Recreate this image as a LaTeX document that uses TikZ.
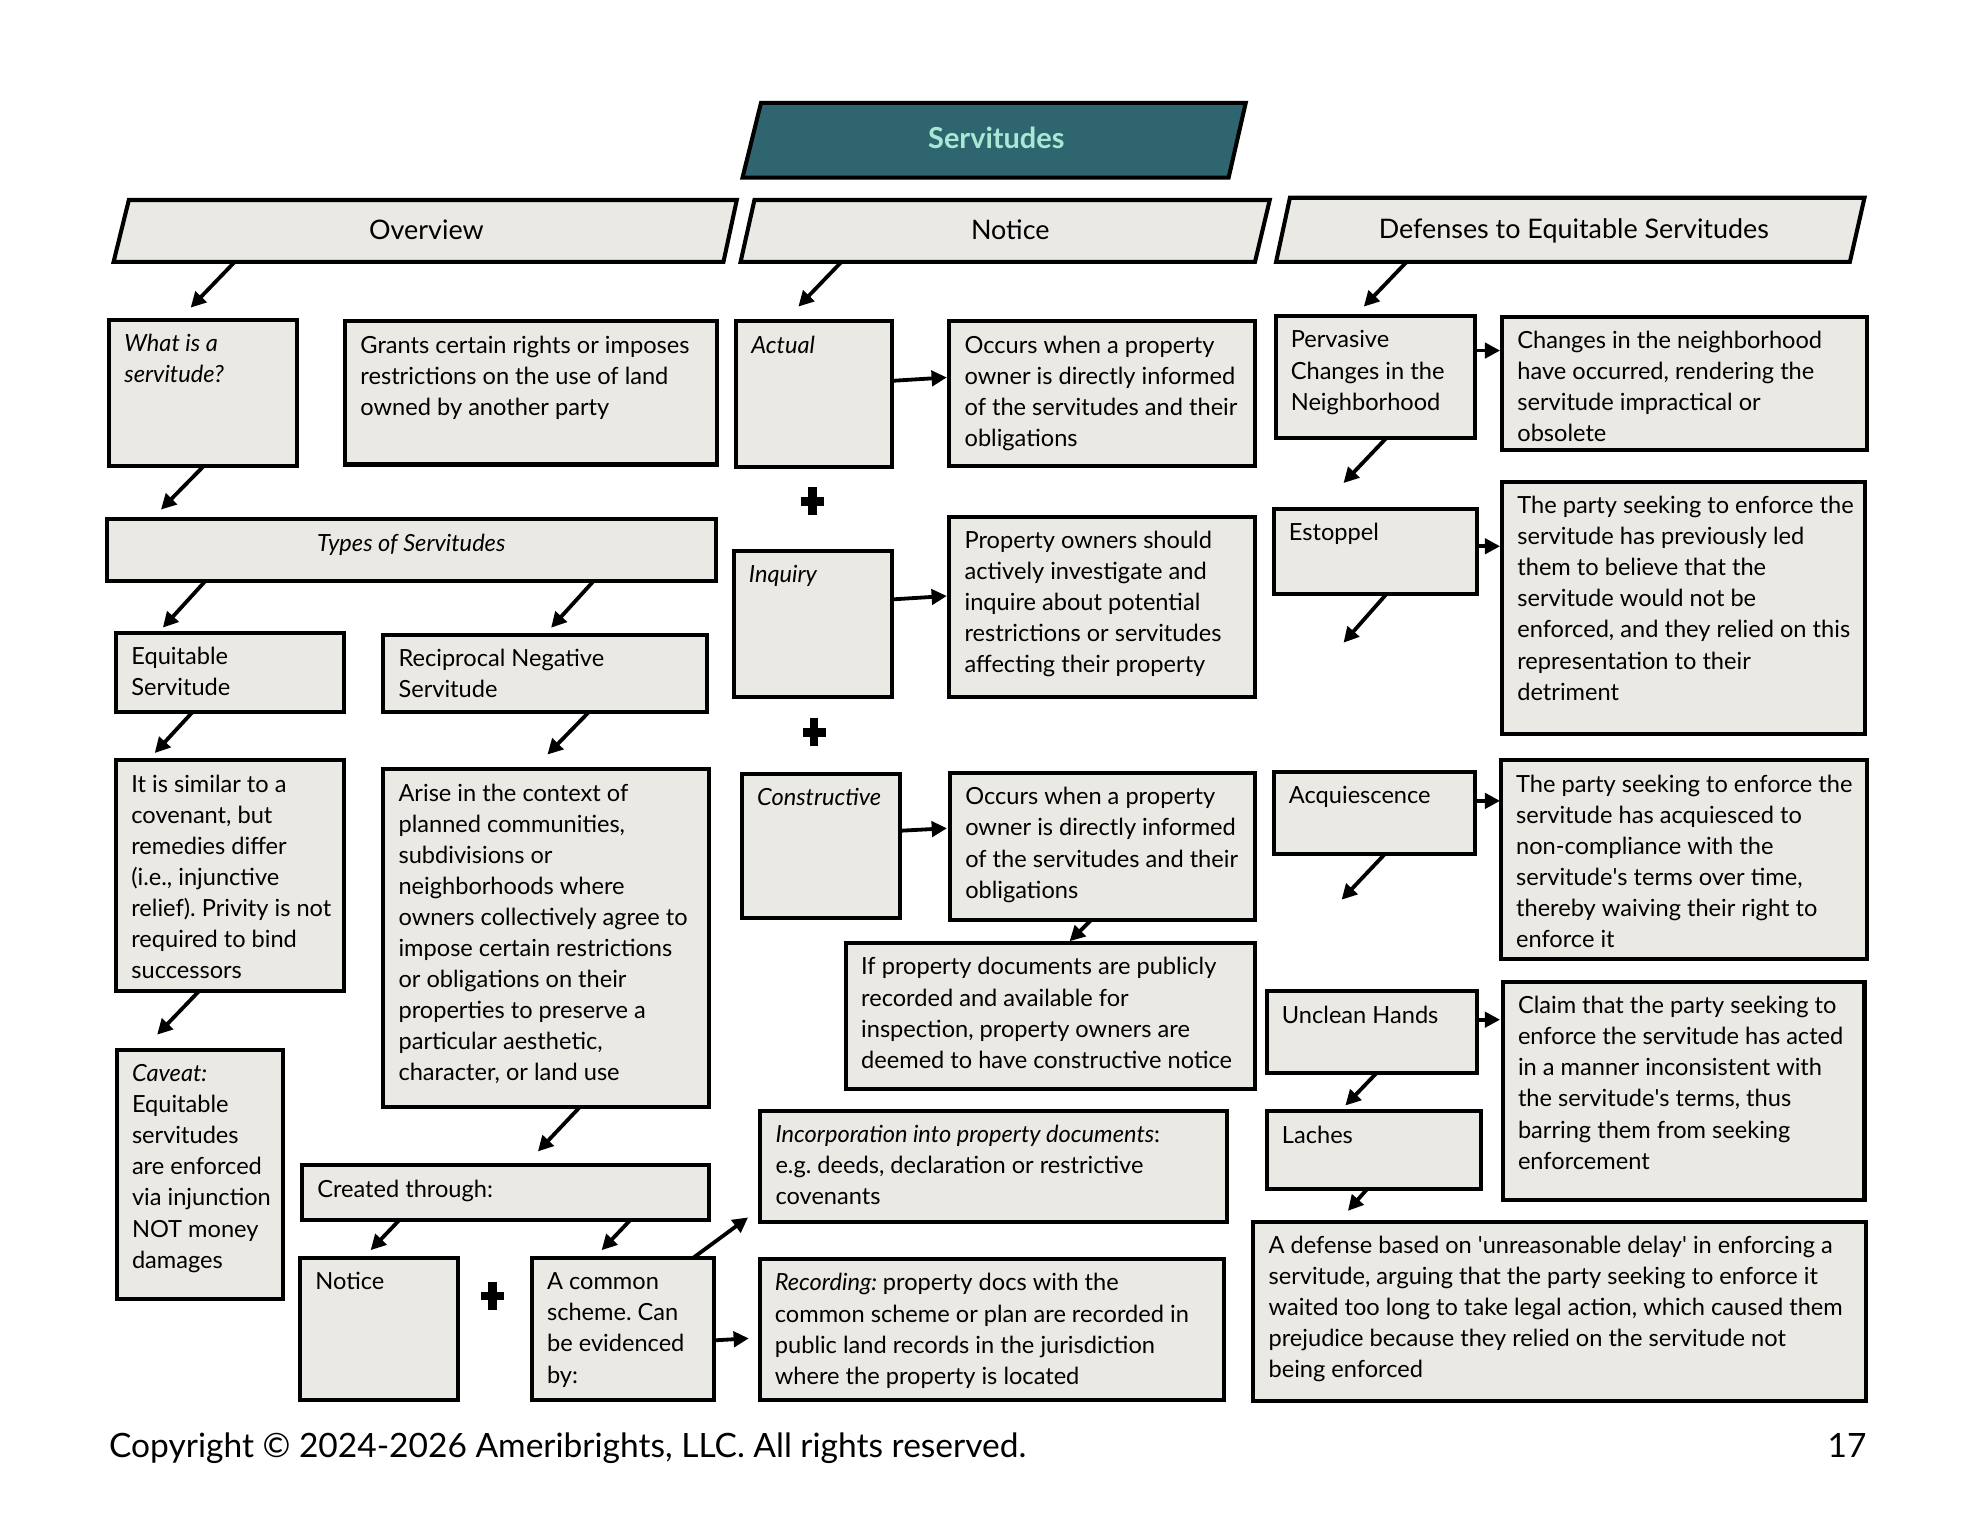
\documentclass[tikz,border=0pt]{standalone}
\usepackage{fontspec}
\setmainfont{Lato}
\usetikzlibrary{arrows.meta,calc,positioning}

\definecolor{cellfill}{RGB}{235,233,228}
\definecolor{titlefill}{RGB}{46,101,111}
\definecolor{titletext}{RGB}{170,232,214}
\newcommand\sq{\textquotesingle}
% text block at the top of a box: [align]{width}{height}{rows}
\newcommand\tbox[4][l]{\parbox[t][\dimexpr#3pt/2-8pt\relax][t]{\dimexpr#2pt/2-12pt\relax}{\if#1c\centering\fi\begin{tabular}[t]{@{}#1@{}}#4\end{tabular}}}
\frenchspacing

\begin{document}
\begin{tikzpicture}[x=0.5pt,y=-0.5pt,
	cell/.style={draw=black,line width=1.6pt,fill=cellfill,inner xsep=6pt,inner ysep=4pt,outer sep=0pt,anchor=north west,font=\fontsize{9.3}{12.25}\selectfont},
	hdr/.style={draw=black,line width=1.6pt,fill=cellfill},
	hdrtext/.style={anchor=base,font=\fontsize{10.6}{12}\selectfont},
	arr/.style={line width=1.5pt,-{Triangle[length=6pt,width=6pt]}},
	plus/.style={line width=3.3pt}]

	\fill[white] (0,0) rectangle (1560,1191.3);

	% title and the three headers
	\draw[hdr,fill=titlefill] (585,140) -- (968,140) -- (981.5,81) -- (599.6,81) -- cycle;
	\node[font=\bfseries\fontsize{11.4}{13}\selectfont,text=titletext] (title) at (785,109) {Servitudes};

	\draw[hdr] (89.5,206.3) coordinate (ovw-bl) -- (570,206.3) -- (580.5,157.6) -- (101.5,157.6) -- cycle;
	\node[hdrtext] (ovw) at (336,189) {Overview};
	\draw[hdr] (583.5,206.3) coordinate (notc-bl) -- (988.8,206.3) -- (1000.4,157.6) -- (594.4,157.6) -- cycle;
	\node[hdrtext] (notc) at (796,189) {Notice};
	\draw[hdr] (1005.4,206.3) coordinate (def-bl) -- (1457.5,206.3) -- (1469,155.8) -- (1016.3,155.8) -- cycle;
	\node[hdrtext] (def) at (1240,188) {Defenses to Equitable Servitudes};

	% overview column
	\node[cell] (whatis)  at (86,252)    {\tbox{148}{115}{\textit{What is a}\\\textit{servitude?}}};
	\node[cell] (grants)  at (272,253)   {\tbox{293}{113}{Grants certain rights or imposes\\restrictions on the use of land\\owned by another party}};
	\node[cell] (types)   at (84,409)    {\tbox[c]{480}{49}{\textit{Types of Servitudes}}};
	\node[cell] (equit)   at (91.5,498.5) {\tbox{179.5}{62.5}{Equitable\\Servitude}};
	\node[cell] (recip)   at (302,500)   {\tbox{255}{61}{Reciprocal Negative\\Servitude}};
	\node[cell] (itis)    at (91.5,599)  {\tbox{179.5}{182}{It is similar to a\\covenant, but\\remedies differ\\(i.e., injunctive\\relief). Privity is not\\required to bind\\successors}};
	\node[cell] (arise)   at (302,606)   {\tbox{256.5}{266.5}{Arise in the context of\\planned communities,\\subdivisions or\\neighborhoods where\\owners collectively agree to\\impose certain restrictions\\or obligations on their\\properties to preserve a\\particular aesthetic,\\character, or land use}};
	\node[cell] (caveat)  at (92,827)    {\tbox{131}{196.5}{\textit{Caveat:}\\Equitable\\servitudes\\are enforced\\via injunction\\NOT money\\damages}};
	\node[cell] (created) at (238,918)   {\tbox{320.5}{43.5}{Created through:}};
	\node[cell] (notice)  at (236.5,991) {\tbox{124.5}{112}{Notice}};
	\node[cell] (common)  at (419,991)   {\tbox{143.5}{112}{A common\\scheme. Can\\be evidenced\\by:}};

	% notice column
	\node[cell] (actual)  at (580,253)   {\tbox{123}{115}{\textit{Actual}}};
	\node[cell] (occ1)    at (748,253)   {\tbox{241}{114}{Occurs when a property\\owner is directly informed\\of the servitudes and their\\obligations}};
	\node[cell] (inquiry) at (578,434)   {\tbox{125}{115}{\textit{Inquiry}}};
	\node[cell] (owners)  at (748,407)   {\tbox{241}{142}{Property owners should\\actively investigate and\\inquire about potential\\restrictions or servitudes\\affecting their property}};
	\node[cell] (constr)  at (584.5,609.5) {\tbox{124.5}{114}{\textit{Constructive}}};
	\node[cell] (occ2)    at (748.5,609) {\tbox{240.5}{116}{Occurs when a property\\owner is directly informed\\of the servitudes and their\\obligations}};
	\node[cell] (ifprop)  at (666.5,743) {\tbox{322.5}{115}{If property documents are publicly\\recorded and available for\\inspection, property owners are\\deemed to have constructive notice}};
	\node[cell] (incorp)  at (599,875)   {\tbox{368}{87.5}{\textit{Incorporation into property documents}:\\e.g. deeds, declaration or restrictive\\covenants}};
	\node[cell] (record)  at (598.5,992) {\tbox{365.5}{111}{\textit{Recording:}\hspace{0.24em}property docs with the\\common scheme or plan are recorded in\\public land records in the jurisdiction\\where the property is located}};

	% defenses column
	\node[cell] (pervas)  at (1005,249)   {\tbox{157}{96}{Pervasive\\Changes in the\\Neighborhood}};
	\node[cell] (changes) at (1183.5,249.5) {\tbox{287.5}{105}{Changes in the neighborhood\\have occurred, rendering the\\servitude impractical or\\obsolete}};
	\node[cell] (estop)   at (1003.5,401) {\tbox{160}{67}{Estoppel}};
	\node[cell] (led)     at (1183.5,379.5) {\tbox{286}{199}{The party seeking to enforce the\\servitude has previously led\\them to believe that the\\servitude would not be\\enforced, and they relied on this\\representation to their\\detriment}};
	\node[cell] (acq)     at (1003.5,608) {\tbox{158.5}{65}{Acquiescence}};
	\node[cell] (waive)   at (1182.5,599) {\tbox{288.5}{156.5}{The party seeking to enforce the\\servitude has acquiesced to\\non-compliance with the\\servitude\sq s terms over time,\\thereby waiving their right to\\enforce it}};
	\node[cell] (unclean) at (998,781)   {\tbox{165.5}{64.5}{Unclean Hands}};
	\node[cell] (claim)   at (1184,773.5) {\tbox{285}{172}{Claim that the party seeking to\\enforce the servitude has acted\\in a manner inconsistent with\\the servitude\sq s terms, thus\\barring them from seeking\\enforcement}};
	\node[cell] (laches)  at (998,875.5) {\tbox{168.5}{61.5}{Laches}};
	\node[cell] (delay)   at (987.5,962.5) {\tbox{482.5}{141.5}{A defense based on \sq unreasonable delay\sq{} in enforcing a\\servitude, arguing that the party seeking to enforce it\\waited too long to take legal action, which caused them\\prejudice because they relied on the servitude not\\being enforced}};

	\coordinate (estop-end) at (1058.5,506.4);
	\coordinate (acq-end)   at (1057,708.9);

	% plus signs
	\draw[plus] (640,395) ++(0,-11) -- ++(0,22) (640,395) ++(-9,0) -- ++(18,0);
	\draw[plus] (641.5,577) ++(0,-11) -- ++(0,22) (641.5,577) ++(-9,0) -- ++(18,0);
	\draw[plus] (388,1021) ++(0,-11) -- ++(0,22) (388,1021) ++(-9,0) -- ++(18,0);

	% connectors
	\draw[arr] ($(ovw-bl)+(95.5,0)$) -- ($(whatis.north west)+(64.2,-9.6)$);
	\draw[arr] ($(notc-bl)+(79.5,0)$) -- ($(actual.north west)+(49,-11.4)$);
	\draw[arr] ($(def-bl)+(102.9,0)$) -- ($(pervas.north west)+(69.5,-7.4)$);
	\draw[arr] ($(whatis.south west)+(74.7,0)$) -- ($(types.north west)+(42.8,-7.5)$);
	\draw[arr] ($(types.south west)+(77.6,0)$) -- ($(equit.north west)+(36.8,-4)$);
	\draw[arr] ($(types.south west)+(383.5,0)$) -- ($(recip.north west)+(132.2,-5.4)$);
	\draw[arr] ($(equit.south west)+(60.2,0)$) -- ($(itis.north west)+(30.4,-5.7)$);
	\draw[arr] ($(recip.south west)+(162,0)$) -- ($(arise.north west)+(129.3,-11.5)$);
	\draw[arr] ($(itis.south west)+(65.2,0)$) -- ($(caveat.north west)+(31.8,-11.8)$);
	\draw[arr] ($(arise.south west)+(154.6,0)$) -- ($(created.north west)+(185.8,-10.8)$);
	\draw[arr] ($(created.south west)+(76.4,0)$) -- ($(notice.north west)+(55.5,-6)$);
	\draw[arr] ($(created.south west)+(258.4,0)$) -- ($(common.north west)+(55,-6)$);
	\draw[arr] ($(common.north west)+(127.2,0)$) -- ($(incorp.south west)+(-9.6,-3.3)$);
	\draw[arr] ($(common.north east)+(1,65)$) -- ($(record.north west)+(-8.5,62.5)$);
	\draw[arr] ($(actual.north east)+(0.8,47)$) -- ($(occ1.north west)+(-2,44.4)$);
	\draw[arr] ($(inquiry.north east)+(0.8,38.2)$) -- ($(owners.north west)+(-2,62.6)$);
	\draw[arr] ($(constr.north east)+(0.8,45)$) -- ($(occ2.north west)+(-2.4,43.6)$);
	\draw[arr] ($(occ2.south west)+(111.1,0)$) -- ($(ifprop.north west)+(176.2,-1.4)$);
	\draw[arr] ($(pervas.north east)+(0,27.2)$) -- ($(changes.north west)+(-1.6,26.7)$);
	\draw[arr] ($(pervas.south west)+(87.4,0)$) -- ($(estop.north west)+(55,-20.4)$);
	\draw[arr] ($(estop.north east)+(0,29.4)$) -- ($(led.north west)+(-1.6,50.9)$);
	\draw[arr] ($(estop.south west)+(88.9,0)$) -- (estop-end);
	\draw[arr] ($(acq.north east)+(0,23)$) -- ($(waive.north west)+(-0.6,32)$);
	\draw[arr] ($(acq.south west)+(87.5,0)$) -- (acq-end);
	\draw[arr] ($(unclean.north east)+(0,22.4)$) -- ($(claim.north west)+(-2.1,29.9)$);
	\draw[arr] ($(unclean.south west)+(86.5,0)$) -- ($(laches.north west)+(62,-4.5)$);
	\draw[arr] ($(laches.south west)+(79,0)$) -- ($(delay.north west)+(74.5,-8.5)$);

	% footer
	\node[anchor=base west,inner sep=0pt,font=\fontsize{13.2}{15}\selectfont] (copy) at (85.6,1148) {Copyright \textcopyright{} 2024-2026 Ameribrights, LLC. All rights reserved.};
	\node[anchor=base east,inner sep=0pt,font=\fontsize{13.2}{15}\selectfont] (pageno) at (1471,1148) {17};
\end{tikzpicture}
\end{document}
